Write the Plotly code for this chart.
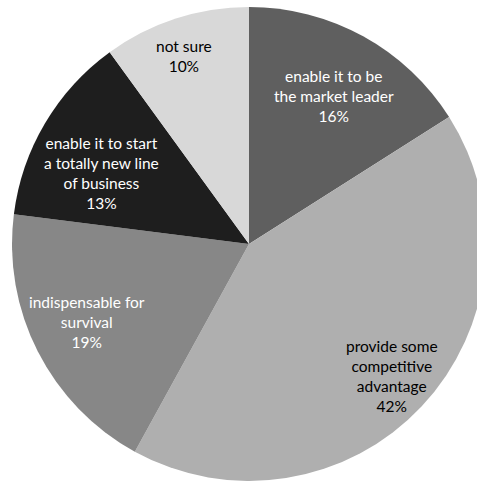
import math
import plotly.graph_objects as go

labels = [
    "enable it to be<br>the market leader",
    "provide some<br>competitive<br>advantage",
    "indispensable for<br>survival",
    "enable it to start<br>a totally new line<br>of business",
    "not sure",
]
values = [16, 42, 19, 13, 10]
colors = ["#5f5f5f", "#afafaf", "#878787", "#1e1e1e", "#d8d8d8"]
text_colors = ["white", "black", "white", "white", "black"]
label_radius = [0.72, 0.82, 0.76, 0.69, 0.84]  # fraction of pie radius
label_shift_deg = [1.0, -0.5, 1.3, -5.0, -1.0]  # small angular nudges

W, H = 500, 481
dom_x = [0.024, 0.972]
dom_y = [0.0, 0.9854]

fig = go.Figure(go.Pie(
    labels=labels,
    values=values,
    sort=False,
    direction="clockwise",
    rotation=0,
    marker=dict(colors=colors, line=dict(width=0)),
    textinfo="none",
    hoverinfo="label+percent",
    showlegend=False,
    domain=dict(x=dom_x, y=dom_y),
))

# label placement derived from slice angles
cx = (dom_x[0] + dom_x[1]) / 2
cy = (dom_y[0] + dom_y[1]) / 2
r_px = min((dom_x[1] - dom_x[0]) * W, (dom_y[1] - dom_y[0]) * H) / 2
total = sum(values)
cum = 0
for lab, v, tc, fr, sh in zip(labels, values, text_colors, label_radius, label_shift_deg):
    mid = (cum + v / 2) / total * 2 * math.pi + math.radians(sh)
    cum += v
    x = cx + fr * r_px * math.sin(mid) / W
    y = cy + fr * r_px * math.cos(mid) / H
    fig.add_annotation(
        x=x, y=y, xref="paper", yref="paper",
        text=f"{lab}<br>{v}%", showarrow=False,
        font=dict(family="Lato", size=15.5, color=tc),
        align="center", xanchor="center", yanchor="middle",
    )

fig.update_layout(
    width=W,
    height=H,
    margin=dict(l=0, r=0, t=0, b=0),
    paper_bgcolor="white",
    plot_bgcolor="white",
)

fig.write_html("out.html", post_script="document.body.style.overflow='hidden';document.documentElement.style.overflow='hidden';")
